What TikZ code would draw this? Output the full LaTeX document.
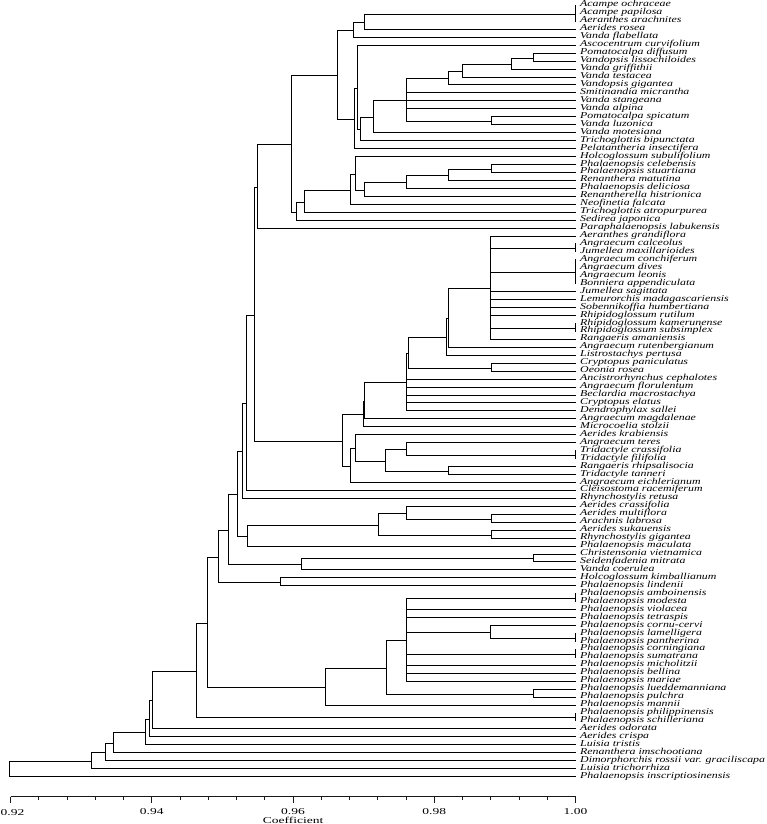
\documentclass[tikz,border=0pt]{standalone}
\usepackage{fontspec}
\setmainfont{Liberation Serif}
\newfontfamily\labfont[FakeStretch=1.32]{Liberation Serif}
\newfontfamily\axfont[FakeStretch=1.5]{Liberation Serif}
\usetikzlibrary{calc}
\tikzset{
  branch/.style={line width=1.6pt, line cap=rect, black},
  leaflab/.style={anchor=base west, inner sep=0pt, font=\labfont\itshape\fontsize{9}{9}\selectfont},
  axline/.style={line width=1.2pt, black!90},
  axlab/.style={inner sep=0pt, font=\axfont\fontsize{9}{9}\selectfont}
}
\newcommand\jn[5]{%
  \path let \p1=($(#3)!0.5!(#4)$) in coordinate (#1) at ({round(#2)+0.5},{round(-1*scalar(\y1))+0.5});
  \draw[branch] (#3 -| #1) -- (#4 -| #1);
  \foreach \ch in {#5} {\draw[branch] (\ch) -- (\ch -| #1);}
}
\begin{document}
\begin{tikzpicture}[x=1pt,y=-1pt]
\useasboundingbox (0,0) rectangle (767,824);
\foreach \n [count=\i] in {Acampe ochraceae, Acampe papilosa, Aeranthes arachnites, Aerides rosea, Vanda flabellata, Ascocentrum curvifolium, Pomatocalpa diffusum, Vandopsis lissochiloides, Vanda griffithii, Vanda testacea, Vandopsis gigantea, Smitinandia micrantha, Vanda stangeana, Vanda alpina, Pomatocalpa spicatum, Vanda luzonica, Vanda motesiana, Trichoglottis bipunctata, Pelatantheria insectifera, Holcoglossum subulifolium, Phalaenopsis celebensis, Phalaenopsis stuartiana, Renanthera matutina, Phalaenopsis deliciosa, Renantherella histrionica, Neofinetia falcata, Trichoglottis atropurpurea, Sedirea japonica, Paraphalaenopsis labukensis, Aeranthes grandiflora, Angraecum calceolus, Jumellea maxillarioides, Angraecum conchiferum, Angraecum dives, Angraecum leonis, Bonniera appendiculata, Jumellea sagittata, Lemurorchis madagascariensis, Sobennikoffia humbertiana, Rhipidoglossum rutilum, Rhipidoglossum kamerunense, Rhipidoglossum subsimplex, Rangaeris amaniensis, Angraecum rutenbergianum, Listrostachys pertusa, Cryptopus paniculatus, Oeonia rosea, Ancistrorhynchus cephalotes, Angraecum florulentum, Beclardia macrostachya, Cryptopus elatus, Dendrophylax sallei, Angraecum magdalenae, Microcoelia stolzii, Aerides krabiensis, Angraecum teres, Tridactyle crassifolia, Tridactyle filifolia, Rangaeris rhipsalisocia, Tridactyle tanneri, Angraecum eichlerianum, Cleisostoma racemiferum, Rhynchostylis retusa, Aerides crassifolia, Aerides multiflora, Arachnis labrosa, Aerides sukauensis, Rhynchostylis gigantea, Phalaenopsis maculata, Christensonia vietnamica, Seidenfadenia mitrata, Vanda coerulea, Holcoglossum kimballianum, Phalaenopsis lindenii, Phalaenopsis amboinensis, Phalaenopsis modesta, Phalaenopsis violacea, Phalaenopsis tetraspis, Phalaenopsis cornu-cervi, Phalaenopsis lamelligera, Phalaenopsis pantherina, Phalaenopsis corningiana, Phalaenopsis sumatrana, Phalaenopsis micholitzii, Phalaenopsis bellina, Phalaenopsis mariae, Phalaenopsis lueddemanniana, Phalaenopsis pulchra, Phalaenopsis mannii, Phalaenopsis philippinensis, Phalaenopsis schilleriana, Aerides odorata, Aerides crispa, Luisia tristis, Renanthera imschootiana, Dimorphorchis rossii var. graciliscapa, Luisia trichorrhiza, Phalaenopsis inscriptiosinensis}
{
  \coordinate (l\i) at (575.5,{round(5+(\i-1)*7.95)+0.5});
  \node[leaflab] (t\i) at (580,{7+(\i-1)*7.95}) {\n};
}
% top cluster
\jn{T1}{575}{l1}{l3}{l1,l2,l3}
\jn{T2}{363.7}{T1}{l4}{T1,l4}
\jn{T3}{353.3}{T2}{l5}{T2,l5}
\jn{B1}{532.7}{l7}{l8}{l7,l8}
\jn{B2}{511}{B1}{l9}{B1,l9}
\jn{B3}{462.3}{B2}{l10}{B2,l10}
\jn{B4}{448.3}{B3}{l11}{B3,l11}
\jn{B5}{490.7}{l15}{l16}{l15,l16}
\jn{B6}{406}{B4}{B5}{B4,l12,l13,l14,B5}
\jn{B7}{372.7}{B6}{l17}{B6,l17}
\jn{B8}{360}{B7}{l18}{B7,l18}
\jn{B9}{356.7}{l6}{B8}{l6,B8}
\jn{B10}{354.3}{B9}{l19}{B9,l19}
\jn{T4}{337.3}{T3}{B10}{T3,B10}
\jn{C1}{490.7}{l21}{l22}{l21,l22}
\jn{C2}{448.3}{C1}{l23}{C1,l23}
\jn{C3}{406}{C2}{l24}{C2,l24}
\jn{C4}{364}{C3}{l25}{C3,l25}
\jn{C5}{355}{l20}{C4}{l20,C4}
\jn{C6}{350}{C5}{l26}{C5,l26}
\jn{C7}{304}{C6}{l27}{C6,l27}
\jn{C8}{295.7}{C7}{l28}{C7,l28}
\jn{D1}{290.7}{T4}{C8}{T4,C8}
\jn{E1}{257.3}{D1}{l29}{D1,l29}
% middle cluster
\jn{F1}{575}{l31}{l32}{l31,l32}
\jn{F2}{575}{l33}{l36}{l33,l34,l35,l36}
\jn{F3}{575}{l41}{l42}{l41,l42}
\jn{F4}{490}{l30}{l43}{l30,F1,F2,l37,l38,l39,l40,F3,l43}
\jn{F5}{448.3}{F4}{l44}{F4,l44}
\jn{F6}{446}{F5}{l45}{F5,l45}
\jn{G1}{490.7}{l46}{l47}{l46,l47}
\jn{G2}{408.3}{F6}{G1}{F6,G1}
\jn{G3}{406}{G2}{l52}{G2,l48,l49,l50,l51,l52}
\jn{G4}{364}{G3}{l53}{G3,l53}
\jn{G5}{362.7}{G4}{l54}{G4,l54}
\jn{H1}{575}{l57}{l58}{l57,l58}
\jn{H2}{406}{l56}{H1}{l56,H1}
\jn{H3}{448.3}{l59}{l60}{l59,l60}
\jn{H4}{385}{H2}{H3}{H2,H3}
\jn{H5}{355.3}{l55}{H4}{l55,H4}
\jn{H6}{350}{H5}{l61}{H5,l61}
\jn{H7}{342.3}{G5}{H6}{G5,H6}
\jn{I1}{254}{E1}{H7}{E1,H7}
\jn{I2}{245.7}{I1}{l62}{I1,l62}
\jn{I3}{242.3}{I2}{l63}{I2,l63}
\jn{J1}{490.7}{l65}{l66}{l65,l66}
\jn{J2}{406}{l64}{J1}{l64,J1}
\jn{J3}{490.7}{l67}{l68}{l67,l68}
\jn{J4}{377.7}{J2}{J3}{J2,J3}
\jn{J5}{246.7}{J4}{l69}{J4,l69}
\jn{I4}{237.3}{I3}{J5}{I3,J5}
\jn{K1}{532.7}{l70}{l71}{l70,l71}
\jn{K2}{301}{K1}{l72}{K1,l72}
\jn{I5}{228.3}{I4}{K2}{I4,K2}
\jn{K3}{280}{l73}{l74}{l73,l74}
\jn{I6}{217.7}{I5}{K3}{I5,K3}
% lower cluster
\jn{L0}{575}{l75}{l76}{l75,l76}
\jn{L1}{575}{l80}{l81}{l80,l81}
\jn{L2}{490}{l79}{L1}{l79,L1}
\jn{L3}{575}{l82}{l83}{l82,l83}
\jn{L4}{406}{L0}{l86}{L0,l77,l78,L2,L3,l84,l85,l86}
\jn{L5}{533.3}{l87}{l88}{l87,l88}
\jn{L6}{385.7}{L4}{L5}{L4,L5}
\jn{L7}{325}{L6}{l89}{L6,l89}
\jn{M1}{206.7}{I6}{L7}{I6,L7}
\jn{L8}{575}{l90}{l91}{l90,l91}
\jn{M2}{195.7}{M1}{L8}{M1,L8}
\jn{M3}{151.7}{M2}{l92}{M2,l92}
\jn{M4}{149}{M3}{l93}{M3,l93}
\jn{M5}{145}{M4}{l94}{M4,l94}
\jn{M6}{113.3}{M5}{l95}{M5,l95}
\jn{M7}{105}{M6}{l96}{M6,l96}
\jn{M8}{90.7}{M7}{l97}{M7,l97}
\jn{R}{9.3}{M8}{l98}{M8,l98}
% axis
\coordinate (ax0) at (10.5,796.5);
\coordinate (ax1) at (575.5,796.5);
\draw[axline] (ax0) -- (ax1);
\foreach \k in {0,...,20} {
  \draw[axline] ({round(10+\k*28.25)+0.5},796.5) -- ++(0,3);
}
\foreach \k in {0,5,10,15,20} {
  \draw[axline] ({round(10+\k*28.25)+0.5},796.5) -- ++(0,6.5);
}
\foreach \k/\lab in {5/0.94,10/0.96,15/0.98,20/1.00} {
  \node[axlab] (tick\k) at ($(ax0)!\k/20!(ax1)+(0,15.5)$) {\lab};
}
\node[axlab] (tick0) at (12.5,812.2) {0.92};
\node[axlab] (coef) at (293,820.5) {Coefficient};
\end{tikzpicture}
\end{document}
